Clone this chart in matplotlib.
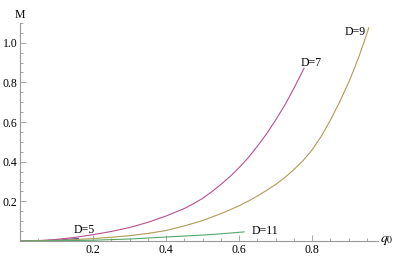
import numpy as np
import matplotlib.pyplot as plt
from matplotlib.ticker import MultipleLocator

plt.rcParams['font.family'] = ['Liberation Serif', 'DejaVu Serif']
plt.rcParams['mathtext.fontset'] = 'stix'

# M(q0) for each dimension D
q5 = [0.0, 0.05, 0.1, 0.13, 0.16]
m5 = [0.0, 0.001, 0.004, 0.008, 0.013]

q7 = [0.0, 0.05, 0.1, 0.15, 0.2, 0.25, 0.3, 0.35, 0.4, 0.45, 0.475, 0.5, 0.525, 0.55, 0.575,
      0.6, 0.625, 0.65, 0.675, 0.7, 0.725, 0.75, 0.765, 0.778]
m7 = [0.0, 0.002, 0.008, 0.018, 0.032, 0.048, 0.068, 0.094, 0.126, 0.164, 0.188, 0.215, 0.248, 0.285, 0.325,
      0.37, 0.42, 0.478, 0.54, 0.61, 0.685, 0.77, 0.825, 0.872]

q9 = [0.0, 0.1, 0.2, 0.25, 0.3, 0.35, 0.4, 0.45, 0.5, 0.55, 0.575, 0.6, 0.625, 0.65, 0.675, 0.7,
      0.725, 0.75, 0.775, 0.8, 0.825, 0.85, 0.875, 0.9, 0.915, 0.93, 0.945, 0.955]
m9 = [0.0, 0.003, 0.012, 0.019, 0.027, 0.038, 0.053, 0.076, 0.103, 0.138, 0.157, 0.178, 0.201, 0.227, 0.255, 0.285,
      0.32, 0.36, 0.405, 0.46, 0.528, 0.61, 0.70, 0.80, 0.868, 0.94, 1.02, 1.075]

q11 = [0.0, 0.1, 0.2, 0.3, 0.35, 0.4, 0.45, 0.5, 0.55, 0.614]
m11 = [0.0, 0.001, 0.004, 0.01, 0.015, 0.02, 0.025, 0.03, 0.036, 0.046]

series = [
    (q5, m5, '#4a4aa6', 'D=5', (0.175, 0.058)),
    (q7, m7, '#b8508e', 'D=7', (0.796, 0.90)),
    (q9, m9, '#b09a55', 'D=9', (0.918, 1.053)),
    (q11, m11, '#55a86a', 'D=11', (0.672, 0.05)),
]

fig = plt.figure(figsize=(3.99, 2.59), dpi=100)
ax = fig.add_axes([0.0501, 0.0695, 0.897, 0.842])

for q, m, c, lab, pos in series:
    ax.plot(q, m, color=c, lw=0.8, zorder=3)
    ax.text(pos[0], pos[1], lab, fontsize=8.5, ha='center', va='center', zorder=4)

ax.set_xlim(0, 0.98)
ax.set_ylim(0, 1.10)
for s in ['top', 'right']:
    ax.spines[s].set_visible(False)
for s in ['left', 'bottom']:
    ax.spines[s].set_color('#999999')
    ax.spines[s].set_linewidth(0.8)

ax.xaxis.set_minor_locator(MultipleLocator(0.05))
ax.yaxis.set_minor_locator(MultipleLocator(0.05))
ax.set_xticks([0.2, 0.4, 0.6, 0.8])
ax.set_yticks([0.2, 0.4, 0.6, 0.8, 1.0])
ax.tick_params(which='both', direction='in', color='#999999', width=0.6, labelsize=8.5, pad=2)
ax.tick_params(which='major', length=4)
ax.tick_params(which='minor', length=2)

ax.text(0, 1.01, 'M', transform=ax.transAxes, fontsize=8.5, ha='center', va='bottom')
ax.text(1.005, 0.0, '$q_0$', transform=ax.transAxes, fontsize=10, ha='left', va='center')

fig.savefig('out.png', dpi=100)
